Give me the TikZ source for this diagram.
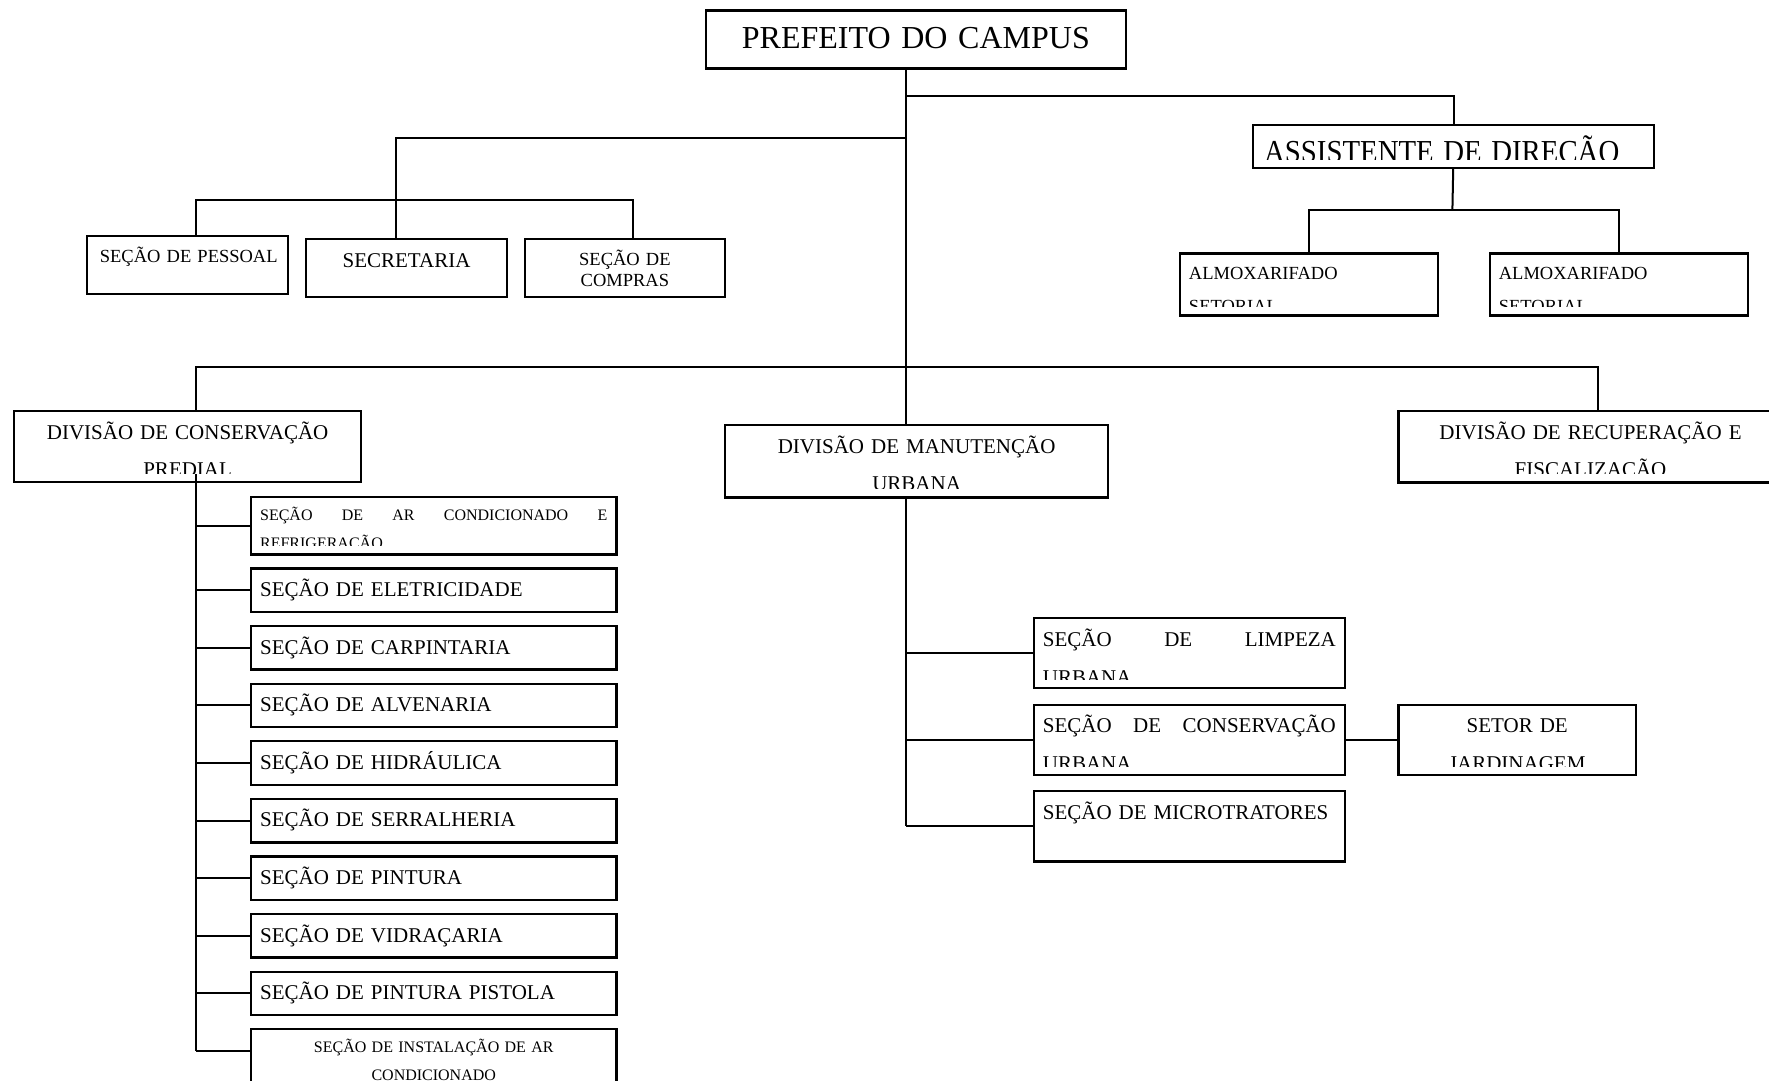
\documentclass[tikz,border=0pt]{standalone}
\usepackage{fontspec}
\setmainfont{Liberation Serif}
\usepackage{graphicx}
\usepackage{tikz}
\usetikzlibrary{calc}
\tikzset{
    org link/.style={
        line width=2pt,
    },
    unit box/.style={
        draw,
        line width=2.3pt,
        anchor=north west,
        inner sep=0pt,
    },
    unit label/.style={
        anchor=base,
        inner sep=0pt,
        minimum width=0pt,
        minimum height=0pt,
        align=left,
    },
    big label/.style={font=\fontsize{21}{37.5}\selectfont, yshift=-28},
    small label/.style={font=\fontsize{18.5}{33}\selectfont, yshift=-26},
    tiny label/.style={font=\fontsize{16}{28}\selectfont, yshift=-23.6},
    title label/.style={font=\fontsize{32}{38}\selectfont, yshift=-38.4, align=center},
}

% box with its text clipped a little above the bottom edge
\newcommand\orgunit[7]{%
    \pgfmathsetlengthmacro\unitinner{#4-18}%
    \node[unit box, minimum width=#4, minimum height=#5,
        path picture={
            \clip ([yshift=8.5]path picture bounding box.south west)
                rectangle (path picture bounding box.north east);
            \node[unit label, text width=\unitinner, #6]
                at (path picture bounding box.north) {#7};
        }] (#1) at (#2,#3) {};
}

\begin{document}
\begin{tikzpicture}[x=1pt, y=-1pt]

    \useasboundingbox (0,0) rectangle (1769,1081);

    \coordinate (trunk) at (906,0);
    \coordinate (lspine) at (195.5,0);
    \coordinate (pdrop) at (195.7,0);
    \coordinate (sdrop) at (395.5,0);
    \coordinate (cdrop) at (633,0);
    \coordinate (rdrop) at (1598,0);

    % top level
    \orgunit{pref}{705}{9.3}{419.5}{58}{title label}{PREFEITO DO CAMPUS}
    \orgunit{asst}{1252}{124}{401}{42.7}{font=\fontsize{32}{38}\selectfont, yshift=-37, xshift=2}{\scalebox{0.9}[1]{ASSISTENTE DE DIREÇÃO}}

    \orgunit{pess}{86}{235}{201}{58}{small label, xshift=3.7, yshift=-0.7}{SEÇÃO DE PESSOAL}
    \orgunit{secr}{305}{238}{200.7}{57.7}{big label, align=center, yshift=-0.7}{SECRETARIA}
    \orgunit{comp}{523.5}{238}{200.5}{58}{small label, align=center, font=\fontsize{18.5}{21.4}\selectfont}{SEÇÃO DE\\COMPRAS}

    \orgunit{alm1}{1178.8}{252.3}{257.8}{62}{small label}{ALMOXARIFADO\\SETORIAL}
    \orgunit{alm2}{1488.7}{252.3}{257.8}{62}{small label}{ALMOXARIFADO\\SETORIAL}

    % divisions
    \orgunit{dcp}{13}{410}{347}{71}{big label, align=center}{DIVISÃO DE CONSERVAÇÃO\\PREDIAL}
    \orgunit{dmu}{724}{424}{383}{72.3}{big label, align=center}{DIVISÃO DE MANUTENÇÃO\\URBANA}
    \orgunit{drf}{1397.4}{410}{384}{71.3}{big label, align=center}{DIVISÃO DE RECUPERAÇÃO E\\FISCALIZAÇÃO}

    % sections of the left division
    \orgunit{s0}{250}{495.7}{365.2}{57.6}{tiny label}{SEÇÃO\hfill DE\hfill AR\hfill CONDICIONADO\hfill E\\REFRIGERAÇÃO}
    \foreach \name [count=\i] in {ELETRICIDADE, CARPINTARIA, ALVENARIA, HIDRÁULICA,
        SERRALHERIA, PINTURA, VIDRAÇARIA, PINTURA PISTOLA}
    {
        \pgfmathsetmacro\rowtop{567.3+57.6*(\i-1)}
        \orgunit{s\i}{250}{\rowtop}{365.2}{43.5}{big label}{SEÇÃO DE \name}
        \draw[org link] (s\i.west) -- (s\i.west -| lspine);
    }
    \orgunit{s9}{250}{1028}{365.2}{70}{tiny label, align=center, yshift=-0.1}{SEÇÃO DE INSTALAÇÃO DE AR\\CONDICIONADO}

    % sections of the middle division
    \orgunit{u1}{1032.7}{617}{311}{69.7}{big label, yshift=-0.7}{SEÇÃO\hfill DE\hfill LIMPEZA\\URBANA}
    \orgunit{u2}{1032.7}{703.7}{311}{70}{big label}{SEÇÃO\hfill DE\hfill CONSERVAÇÃO\\URBANA}
    \orgunit{u3}{1032.7}{790}{311}{70.3}{big label}{SEÇÃO DE MICROTRATORES}
    \orgunit{jard}{1397.4}{703.7}{237.3}{70}{big label, align=center}{SETOR DE\\JARDINAGEM}

    \coordinate (j1) at (906,96);
    \coordinate (j2) at (906,137.7);
    \coordinate (j3) at (395.5,200.3);
    \coordinate (j4) at (1452.4,209.7);
    \coordinate (j5) at (906,366.7);
    \coordinate (s9w) at ([yshift=-22.7]s9.north west);

    % connectors
    \draw[org link] (pref.south -| trunk) -- (dmu.north -| trunk);
    \draw[org link] (j1) -| (asst);
    \draw[org link] (j2) -| (secr.north -| sdrop);
    \draw[org link] (pess.north -| pdrop) |- (j3) -| (comp.north -| cdrop);
    \draw[org link] (asst) -- (j4);
    \draw[org link] (alm1) |- (j4) -| (alm2);
    \draw[org link] (dcp.north -| lspine) |- (j5) -| (drf.north -| rdrop);

    \draw[org link] ([yshift=9]dcp.south -| lspine) -- (s9w -| lspine);
    \draw[org link] (s0.west) -- (s0.west -| lspine);
    \draw[org link] (s9w) -- (s9w -| lspine);

    \draw[org link] (dmu.south -| trunk) -- (u3.west -| trunk);
    \foreach \i in {1,2,3}
    {
        \draw[org link] (u\i.west) -- (u\i.west -| trunk);
    }
    \draw[org link] (u2) -- (jard);

\end{tikzpicture}
\end{document}
